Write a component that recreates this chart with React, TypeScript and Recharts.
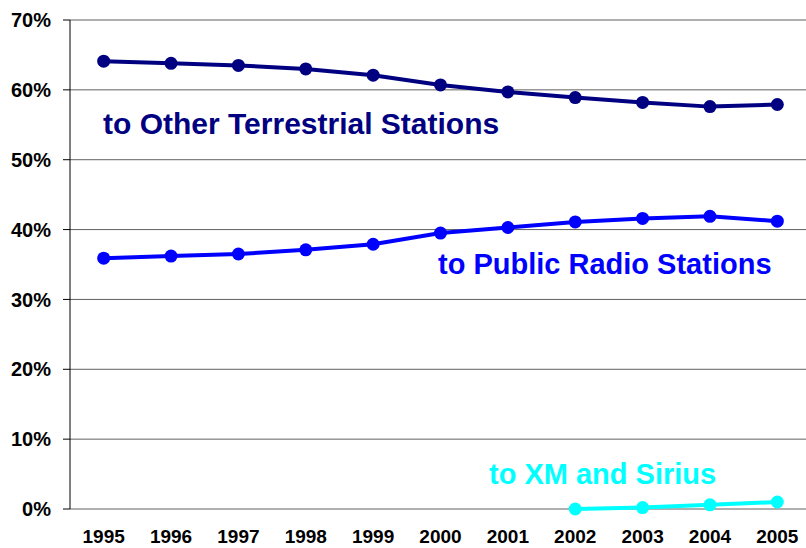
import React from "react"
import { LineChart, Line, XAxis, YAxis, CartesianGrid } from "recharts"

// ── Data ─────────────────────────────────────────────────────────────────────
const YEARS = [1995, 1996, 1997, 1998, 1999, 2000, 2001, 2002, 2003, 2004, 2005]
const OTHER_TERRESTRIAL = [64.1, 63.8, 63.5, 63.0, 62.1, 60.7, 59.7, 58.9, 58.2, 57.6, 57.9]
const PUBLIC_RADIO = [35.9, 36.2, 36.5, 37.1, 37.9, 39.5, 40.3, 41.1, 41.6, 41.9, 41.2]
const XM_SIRIUS = [null, null, null, null, null, null, null, 0.0, 0.2, 0.6, 1.0]
const Y_TICKS = [0, 10, 20, 30, 40, 50, 60, 70]

const COLORS = {
  other: "#000080",
  public: "#0000ff",
  xm: "#00ffff",
  axis: "#000000",
  grid: "#606060"
}

const FONT = "'Liberation Sans', Arial, sans-serif"

const data = YEARS.map((year, i) => ({
  year,
  other: OTHER_TERRESTRIAL[i],
  public: PUBLIC_RADIO[i],
  xm: XM_SIRIUS[i]
}))

// tick marks sit between the years, labels under them
const EDGE_TICKS = [...YEARS.map(y => y - 0.5), YEARS[YEARS.length - 1] + 0.5]
const X_DOMAIN = [YEARS[0] - 0.5, YEARS[YEARS.length - 1] + 0.5]

const tickStyle = { fill: "#000", fontSize: 20, fontWeight: 700, fontFamily: FONT }
const labelStyle = { fontSize: 29, fontWeight: 700, fontFamily: FONT }

export default function App() {
  return (
    <div
      style={{
        position: "absolute",
        left: 0,
        top: 0,
        width: 806,
        height: 548,
        overflow: "hidden",
        background: "#fff"
      }}
    >
      <LineChart
        width={811}
        height={548}
        data={data}
        margin={{ top: 20, right: 0, bottom: 0, left: 0 }}
      >
        <CartesianGrid vertical={false} stroke={COLORS.grid} xAxisId="edges" />
        <XAxis
          xAxisId="edges"
          dataKey="year"
          type="number"
          domain={X_DOMAIN}
          ticks={EDGE_TICKS}
          tick={false}
          height={0}
          tickSize={7}
          axisLine={{ stroke: COLORS.axis }}
          tickLine={{ stroke: COLORS.axis }}
        />
        <XAxis
          xAxisId="labels"
          dataKey="year"
          type="number"
          domain={X_DOMAIN}
          ticks={YEARS}
          interval={0}
          height={39}
          axisLine={false}
          tickLine={false}
          tickMargin={15}
          tick={{ ...tickStyle, fontSize: 19 }}
        />
        <YAxis
          width={70}
          domain={[0, 70]}
          ticks={Y_TICKS}
          interval={0}
          tickFormatter={v => `${v}%`}
          tickSize={7}
          tickMargin={12}
          axisLine={{ stroke: COLORS.axis }}
          tickLine={{ stroke: COLORS.axis }}
          tick={tickStyle}
        />
        <Line
          xAxisId="labels"
          dataKey="other"
          stroke={COLORS.other}
          strokeWidth={4}
          dot={{ r: 6.5, fill: COLORS.other, stroke: "none" }}
          isAnimationActive={false}
        />
        <Line
          xAxisId="labels"
          dataKey="public"
          stroke={COLORS.public}
          strokeWidth={4}
          dot={{ r: 6.5, fill: COLORS.public, stroke: "none" }}
          isAnimationActive={false}
        />
        <Line
          xAxisId="labels"
          dataKey="xm"
          stroke={COLORS.xm}
          strokeWidth={4}
          dot={{ r: 6.5, fill: COLORS.xm, stroke: "none" }}
          isAnimationActive={false}
        />
      </LineChart>
      <svg
        width={806}
        height={548}
        style={{ position: "absolute", left: 0, top: 0, pointerEvents: "none" }}
      >
        <text x={103} y={134} fill={COLORS.other} style={{ ...labelStyle, fontSize: 30 }}>
          to Other Terrestrial Stations
        </text>
        <text x={438} y={274} fill={COLORS.public} style={labelStyle}>
          to Public Radio Stations
        </text>
        <text x={489} y={484} fill={COLORS.xm} style={labelStyle}>
          to XM and Sirius
        </text>
      </svg>
    </div>
  )
}
